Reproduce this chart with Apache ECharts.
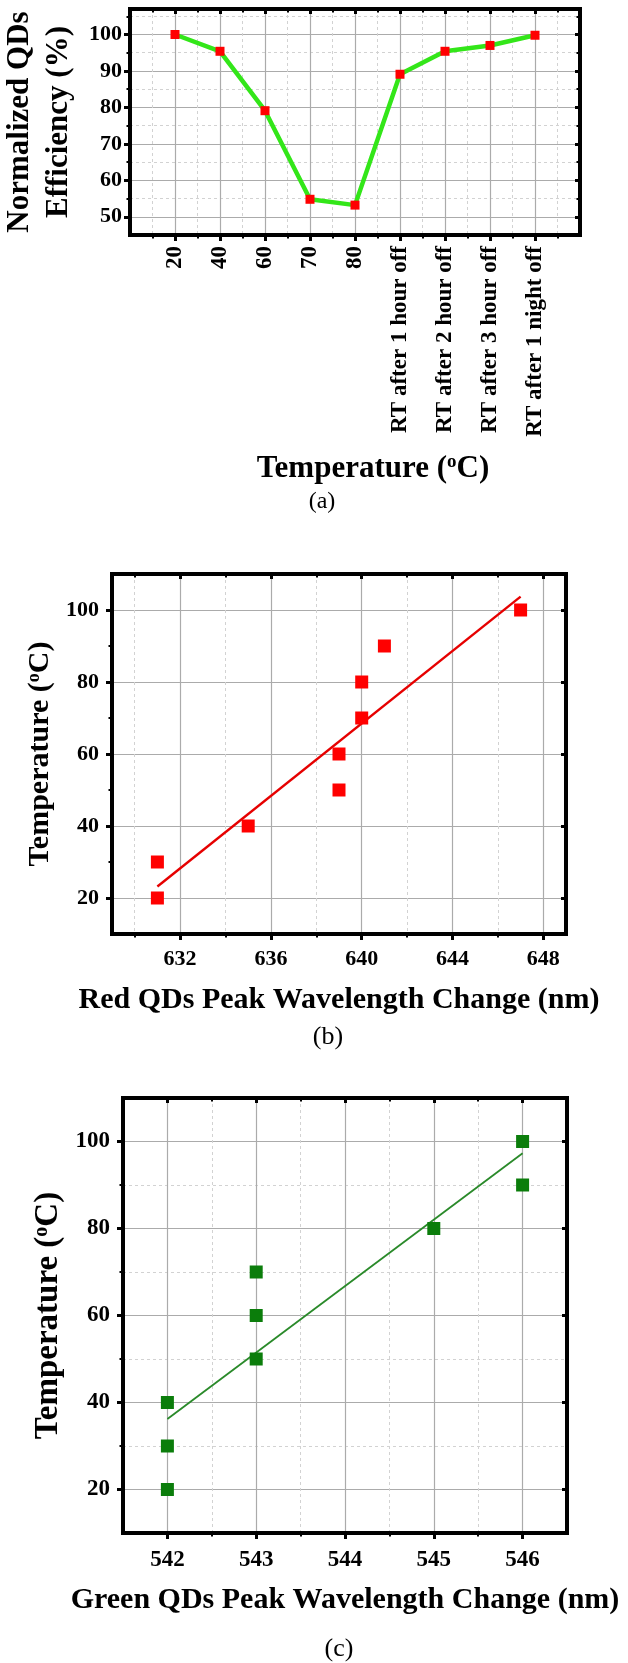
<!DOCTYPE html>
<html>
<head>
<meta charset="utf-8">
<script src="https://cdn.jsdelivr.net/npm/echarts@6/dist/echarts.min.js"></script>
<style>
html,body{margin:0;padding:0;background:#fff;}
#chart{width:628px;height:1663px;}
</style>
</head>
<body>
<div id="chart"></div>
<script>
// ---------- data ----------
const effCategories = ['20', '40', '60', '70', '80', 'RT after 1 hour off', 'RT after 2 hour off', 'RT after 3 hour off', 'RT after 1 night off'];
const effValues = [100, 95.4, 79.1, 54.8, 53.2, 89.1, 95.4, 97.0, 99.8];
const effYTicks = [50, 60, 70, 80, 90, 100];
const effYMinorTicks = [55, 65, 75, 85, 95, 105];

const redWavelength = [631, 631, 635, 639, 639, 640, 640, 641, 647];
const redTemperature = [20, 30, 40, 50, 60, 70, 80, 90, 100];
const redFitLine = [[631, 23.2], [647, 103.7]];
const redXTicks = [632, 636, 640, 644, 648];
const redXMinorTicks = [630, 634, 638, 642, 646];

const greenWavelength = [542, 542, 542, 543, 543, 543, 545, 546, 546];
const greenTemperature = [20, 30, 40, 50, 60, 70, 80, 90, 100];
const greenFitLine = [[542, 36.2], [546, 97.3]];
const greenXTicks = [542, 543, 544, 545, 546];
const greenXMinorTicks = [542.5, 543.5, 544.5, 545.5];

const tempTicks = [20, 40, 60, 80, 100];
const tempMinorTicks = [30, 50, 70, 90];

// ---------- styles ----------
const FONT = '"Liberation Serif", "Times New Roman", Times, serif';
const MAJ = '#ababab';
const MIN = '#d2d2d2';
const T = 'rgba(0,0,0,0)';

function titleStyle(size, extra) {
  return Object.assign({
    fontFamily: FONT, fontWeight: 'bold', fontSize: size, color: '#000',
    rich: { sup: { fontFamily: FONT, fontWeight: 'bold', fontSize: Math.round(size * 0.6), color: '#000', verticalAlign: 'top' } }
  }, extra || {});
}

const xAxes = [];
const yAxes = [];

function buildAxes(list, dim, gi, o) {
  const sides = dim === 'x' ? ['bottom', 'top'] : ['left', 'right'];
  const common = { type: 'value', gridIndex: gi, min: o.min, max: o.max, splitLine: { show: false } };
  const frameLine = { show: true, onZero: false, lineStyle: { color: '#000', width: 4, cap: 'square' } };
  const noLine = { show: false, onZero: false };
  const mainIdx = list.length;
  list.push(Object.assign({}, common, {
    position: sides[0], z: 5,
    axisLine: frameLine,
    axisTick: { show: true, inside: false, length: o.tickLen, customValues: o.major, lineStyle: { color: '#000', width: 3 } },
    axisLabel: { show: true, customValues: o.major, formatter: o.formatter, margin: o.labelMargin, rotate: o.rotate || 0,
      color: '#000', fontFamily: FONT, fontWeight: 'bold', fontSize: o.labelSize },
    name: o.name, nameLocation: 'middle', nameGap: o.nameGap, nameRotate: o.nameRotate, nameTextStyle: o.nameStyle
  }));
  if (o.minor) {
    list.push(Object.assign({}, common, { position: sides[0], z: 5, axisLine: noLine,
      axisTick: { show: true, inside: false, length: o.minorLen, customValues: o.minor, lineStyle: { color: '#000', width: 2 } },
      axisLabel: { show: false } }));
  }
  list.push(Object.assign({}, common, { position: sides[1], z: 5, axisLine: frameLine,
    axisTick: { show: true, inside: true, length: o.innerLen, customValues: o.major, lineStyle: { color: '#000', width: 3 } },
    axisLabel: { show: false } }));
  if (o.minorInner) {
    list.push(Object.assign({}, common, { position: sides[1], z: 5, axisLine: noLine,
      axisTick: { show: true, inside: true, length: o.minorLen, customValues: o.minorInner, lineStyle: { color: '#000', width: 2 } },
      axisLabel: { show: false } }));
  }
  list.push(Object.assign({}, common, { position: sides[0], axisLine: noLine, axisTick: { show: false }, axisLabel: { show: false },
    interval: o.gridStep, splitLine: { show: true, lineStyle: { color: o.solidColors, width: 1.2, type: 'solid' } } }));
  if (o.dashColors) {
    list.push(Object.assign({}, common, { position: sides[0], axisLine: noLine, axisTick: { show: false }, axisLabel: { show: false },
      interval: o.gridStep, splitLine: { show: true, lineStyle: { color: o.dashColors, width: 1, type: [3, 3] } } }));
  }
  return mainIdx;
}

// ---------- panel (a) ----------
const catPos = effCategories.map((c, i) => i + 1);
const halfPos = [0.5, 1.5, 2.5, 3.5, 4.5, 5.5, 6.5, 7.5, 8.5, 9.5];
const ax0 = buildAxes(xAxes, 'x', 0, {
  min: 0, max: 10, major: catPos, minor: halfPos, minorInner: halfPos,
  formatter: v => effCategories[Math.round(v) - 1], rotate: 90, labelMargin: 11, labelSize: 23,
  tickLen: 6, minorLen: 3.5, innerLen: 5,
  gridStep: 0.5, solidColors: [MAJ, T], dashColors: [T, MIN],
  name: 'Temperature ({sup|o}C)', nameGap: 218, nameStyle: titleStyle(31, { padding: [0, 0, 0, 36] })
});
const ay0 = buildAxes(yAxes, 'y', 0, {
  min: 45, max: 107, major: effYTicks, minor: effYMinorTicks, minorInner: effYMinorTicks,
  formatter: v => String(v), labelMargin: 8, labelSize: 22,
  tickLen: 6, minorLen: 3.5, innerLen: 5,
  gridStep: 5, solidColors: [T, MAJ], dashColors: [MIN, T],
  name: 'Normalized QDs\nEfficiency (%)', nameGap: 52, nameRotate: 90, nameStyle: titleStyle(31, { lineHeight: 39 })
});

// ---------- panel (b) ----------
const ax1 = buildAxes(xAxes, 'x', 1, {
  min: 629, max: 649, major: redXTicks, minor: redXMinorTicks, minorInner: redXMinorTicks,
  formatter: v => String(v), labelMargin: 14, labelSize: 22,
  tickLen: 6, minorLen: 3.5, innerLen: 5,
  gridStep: 1, solidColors: [T, T, T, MAJ], dashColors: [T, MIN, T, T],
  name: 'Red QDs Peak Wavelength Change (nm)', nameGap: 51, nameStyle: titleStyle(30)
});
const ay1 = buildAxes(yAxes, 'y', 1, {
  min: 10, max: 110, major: tempTicks, minor: tempMinorTicks,
  formatter: v => String(v), labelMargin: 13, labelSize: 22,
  tickLen: 6, minorLen: 3.5, innerLen: 5,
  gridStep: 10, solidColors: [T, MAJ],
  name: 'Temperature ({sup|o}C)', nameGap: 50, nameRotate: 90, nameStyle: titleStyle(30)
});

// ---------- panel (c) ----------
const ax2 = buildAxes(xAxes, 'x', 2, {
  min: 541.5, max: 546.5, major: greenXTicks, minor: greenXMinorTicks, minorInner: greenXMinorTicks,
  formatter: v => String(v), labelMargin: 16, labelSize: 23,
  tickLen: 6, minorLen: 3.5, innerLen: 5,
  gridStep: 0.5, solidColors: [T, MAJ], dashColors: [MIN, T],
  name: 'Green QDs Peak Wavelength Change (nm)', nameGap: 52, nameStyle: titleStyle(30)
});
const ay2 = buildAxes(yAxes, 'y', 2, {
  min: 10, max: 110, major: tempTicks, minor: tempMinorTicks,
  formatter: v => String(v), labelMargin: 13, labelSize: 23,
  tickLen: 6, minorLen: 3.5, innerLen: 5,
  gridStep: 10, solidColors: [T, MAJ], dashColors: [MIN, T],
  name: 'Temperature ({sup|o}C)', nameGap: 47, nameRotate: 90, nameStyle: titleStyle(33)
});

const option = {
  animation: false,
  backgroundColor: '#fff',
  grid: [
    { left: 130, top: 9, width: 450, height: 226, containLabel: false, outerBoundsMode: 'none' },
    { left: 112, top: 574, width: 454, height: 360, containLabel: false, outerBoundsMode: 'none' },
    { left: 123, top: 1098, width: 444, height: 435, containLabel: false, outerBoundsMode: 'none' }
  ],
  xAxis: xAxes,
  yAxis: yAxes,
  graphic: [
    { type: 'text', x: 322, y: 502, style: { text: '(a)', fontFamily: FONT, fontSize: 24, fill: '#000', align: 'center', verticalAlign: 'middle' } },
    { type: 'text', x: 328, y: 1037, style: { text: '(b)', fontFamily: FONT, fontSize: 26, fill: '#000', align: 'center', verticalAlign: 'middle' } },
    { type: 'text', x: 339, y: 1649, style: { text: '(c)', fontFamily: FONT, fontSize: 26, fill: '#000', align: 'center', verticalAlign: 'middle' } }
  ],
  series: [
    {
      name: 'Normalized efficiency', type: 'line', xAxisIndex: ax0, yAxisIndex: ay0,
      data: effValues.map((v, i) => [catPos[i], v]),
      lineStyle: { color: '#33e619', width: 4.5 },
      symbol: 'rect', symbolSize: 9, itemStyle: { color: '#ff0000', opacity: 1 }, z: 3
    },
    {
      name: 'Red fit', type: 'line', xAxisIndex: ax1, yAxisIndex: ay1,
      data: redFitLine, showSymbol: false, symbol: 'none',
      lineStyle: { color: '#e60000', width: 2.4 }, z: 2
    },
    {
      name: 'Red QDs', type: 'scatter', xAxisIndex: ax1, yAxisIndex: ay1,
      data: redWavelength.map((x, i) => [x, redTemperature[i]]),
      symbol: 'rect', symbolSize: 13, itemStyle: { color: '#ff0000', opacity: 1 }, z: 3
    },
    {
      name: 'Green fit', type: 'line', xAxisIndex: ax2, yAxisIndex: ay2,
      data: greenFitLine, showSymbol: false, symbol: 'none',
      lineStyle: { color: '#2a8a2a', width: 1.8 }, z: 2
    },
    {
      name: 'Green QDs', type: 'scatter', xAxisIndex: ax2, yAxisIndex: ay2,
      data: greenWavelength.map((x, i) => [x, greenTemperature[i]]),
      symbol: 'rect', symbolSize: 13, itemStyle: { color: '#0b7d0b', opacity: 1 }, z: 3
    }
  ]
};

const chart = echarts.init(document.getElementById('chart'), null, { renderer: 'canvas', width: 628, height: 1663 });
chart.setOption(option);
</script>
</body>
</html>
